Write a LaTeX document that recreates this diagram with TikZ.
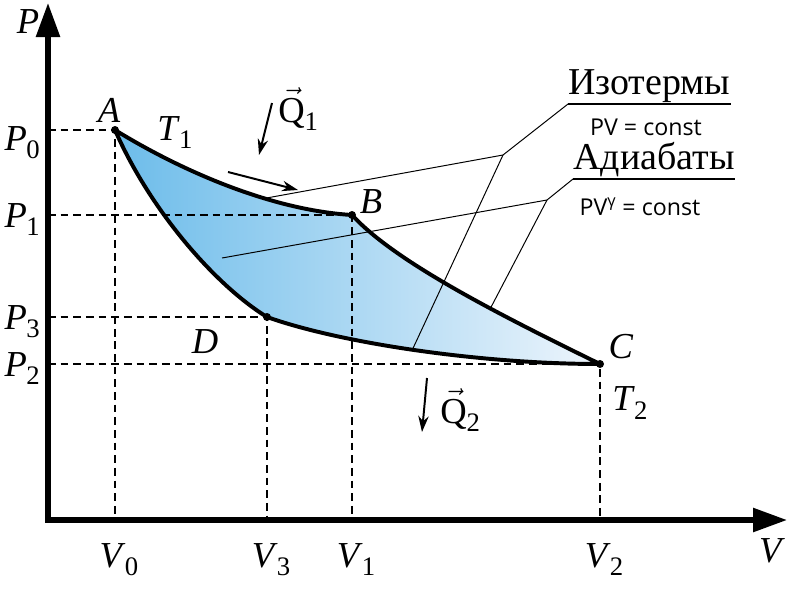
\documentclass[tikz,border=0pt]{standalone}
\usepackage{fontspec}
\setmainfont{Liberation Serif}
\newfontfamily\formulafont{Open Sans}
\usetikzlibrary{arrows.meta}

\definecolor{cycledark}{RGB}{108,188,234}
\definecolor{cyclemid}{RGB}{158,210,240}
\definecolor{cyclelight}{RGB}{238,245,252}

% italic letter with an upright index
\newcommand\varlab[2]{\textit{#1}\kern-0.5pt\raisebox{-0.22em}{\fontsize{19}{19}\selectfont #2}}
\newcommand\heat[1]{$\vec{\hbox{Q}}$\raisebox{-0.22em}{\fontsize{19}{19}\selectfont #1}}

\begin{document}
\begin{tikzpicture}[
        x=0.025cm, y=-0.025cm,
        axis/.style={line width=3.6pt, {Triangle[length=0.85cm, width=0.58cm]}-{Triangle[length=0.85cm, width=0.58cm]}},
        cycleline/.style={line width=2.8pt, line join=round, left color=cycledark, middle color=cyclemid, right color=cyclelight},
        guide/.style={line width=0.8pt, dash pattern=on 5.5pt off 3.5pt},
        leader/.style={line width=0.7pt},
        underline/.style={line width=1.2pt},
        heatarrow/.style={-{Stealth[length=0.4cm, width=0.26cm]}, line width=1.4pt},
        dot/.style={circle, fill, inner sep=0pt, minimum size=0.2cm},
        lbl/.style={font=\fontsize{26}{30}\selectfont, inner sep=0pt},
        title/.style={font=\fontsize{27}{31}\selectfont, inner xsep=0pt, inner ysep=1pt},
        formula/.style={font=\formulafont\fontsize{16.5}{19}\selectfont, inner sep=0pt}
    ]
        \useasboundingbox (0,0) rectangle (800,600);

        \coordinate (O) at (48,520);
        \coordinate (Ptop) at (48,3);
        \coordinate (Vend) at (787,520);
        \coordinate (A) at (115,130);
        \coordinate (B) at (352,215);
        \coordinate (C) at (600,364);
        \coordinate (D) at (267,317);

        % Carnot cycle
        \shadedraw[cycleline] (A) .. controls (180,170) and (270,210) .. (B) coordinate[pos=0.65] (isoAB)
            .. controls (395,262) and (500,315) .. (C) coordinate[pos=0.63] (adiBC)
            .. controls (480,364) and (340,343) .. (D) coordinate[pos=0.51] (isoDC)
            .. controls (215,285) and (150,210) .. cycle;

        % projections on the axes
        \foreach \pt/\i/\dy in {A/0/20, B/1/12, C/2/12, D/3/12} {
            \draw[guide] (O |- \pt) -- (\pt) -- (\pt |- O);
            \node[lbl, anchor=base east] (P\i) at ([shift={(-8,\dy)}]O |- \pt) {\varlab{P}{\i}};
            \node[lbl, anchor=base] (V\i) at ([shift={(4,47)}]\pt |- O) {\varlab{V}{\i}};
            \node[dot] at (\pt) {};
        }

        \draw[axis] (Ptop) |- (Vend);
        \node[lbl] (Plab) at (28,22) {\textit{P}};
        \node[lbl] (Vlab) at (772,551) {\textit{V}};

        \node[lbl] (Alab) at (109,110) {\textit{A}};
        \node[lbl] (Blab) at (371,202) {\textit{B}};
        \node[lbl] (Clab) at (621,347) {\textit{C}};
        \node[lbl] (Dlab) at (205,342) {\textit{D}};
        \node[lbl] (T1) at (175,133) {\varlab{T}{1}};
        \node[lbl] (T2) at (630,403) {\varlab{T}{2}};

        % heat flows
        \coordinate (q1s) at (272,103);
        \coordinate (q1e) at (259,155);
        \coordinate (q2s) at (427,378);
        \coordinate (q2e) at (422,432);
        \coordinate (fs) at (228,172);
        \coordinate (fe) at (298,190);
        \draw[heatarrow] (q1s) -- (q1e);
        \draw[heatarrow] (q2s) -- (q2e);
        \draw[heatarrow] (fs) -- (fe);
        \node[lbl, anchor=base west] (Q1) at (278,122) {\heat{1}};
        \node[lbl, anchor=base west] (Q2) at (440,423) {\heat{2}};

        % legend with leaders
        \node[title, anchor=south west] (iso) at (568,104) {Изотермы};
        \node[formula] (isoeq) at (646,127) {PV = const};
        \node[title, anchor=south west] (adi) at (573,179) {Адиабаты};
        \node[formula] (adieq) at (640,207) {PV\textsuperscript{γ} = const};
        \coordinate (isoJ) at (503,155);
        \coordinate (adiJ) at (547,200);
        \coordinate (adiAD) at (222,258);
        \draw[leader] (isoAB) -- (isoJ) -- (iso.south west);
        \draw[leader] (isoDC) -- (isoJ);
        \draw[underline] (iso.south west) -- (iso.south east);
        \draw[leader] (adiAD) -- (adiJ) -- (adi.south west);
        \draw[leader] (adiBC) -- (adiJ);
        \draw[underline] (adi.south west) -- (adi.south east);
    \end{tikzpicture}
\end{document}
